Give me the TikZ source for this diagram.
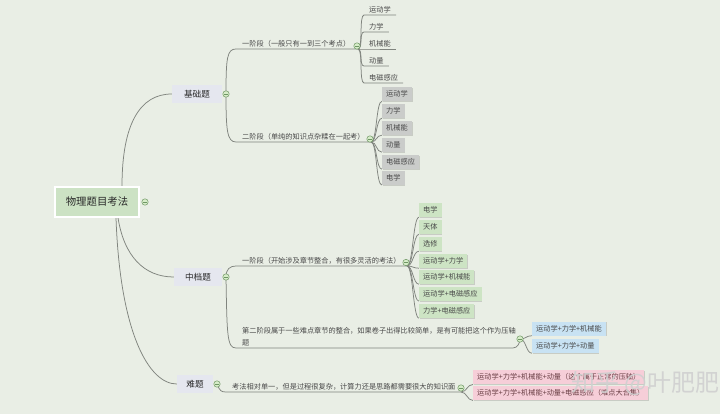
\documentclass[tikz,border=0pt]{standalone}
\usepackage{fontspec}
\setmainfont{Noto Sans CJK SC}
\usetikzlibrary{shadows}
\pgfdeclarelayer{back}
\pgfdeclarelayer{lines}
\pgfsetlayers{back,lines,main}
\definecolor{bgc}{RGB}{233,238,229}
\definecolor{ln}{RGB}{128,132,126}
\definecolor{rootfill}{RGB}{204,226,196}
\definecolor{lonefill}{RGB}{229,231,239}
\definecolor{grayfill}{RGB}{202,204,202}
\definecolor{greenfill}{RGB}{205,228,196}
\definecolor{bluefill}{RGB}{200,226,243}
\definecolor{pinkfill}{RGB}{246,206,216}
\definecolor{txt}{RGB}{40,40,40}
\definecolor{txtb}{RGB}{72,72,72}
\definecolor{pinktxt}{RGB}{105,62,68}
\definecolor{foldfill}{RGB}{214,236,200}
\definecolor{folddraw}{RGB}{110,150,100}
\definecolor{wmc}{RGB}{208,208,208}
\tikzset{
  conn/.style={draw=ln, line width=0.75pt},
  rootbox/.style={fill=rootfill, draw=white, line width=1.6pt, minimum width=84pt, minimum height=30pt, inner sep=0pt, font=\fontsize{10.4}{12}\selectfont, text=txt},
  lonebox/.style={fill=lonefill, minimum height=18pt, inner xsep=0pt, inner ysep=0pt, font=\fontsize{8.6}{10}\selectfont, text=txt},
  ltwo/.style={anchor=south west, inner xsep=6pt, inner ysep=1.6pt, font=\fontsize{7.2}{12}\selectfont, text=txtb},
  leaf/.style={anchor=south west, inner xsep=5pt, inner ysep=1.6pt, font=\fontsize{7.2}{8}\selectfont, text=txtb},
  tagbox/.style={anchor=west, minimum height=14pt, inner xsep=4pt, inner ysep=0pt, font=\fontsize{7.2}{8}\selectfont, text=txtb,
     general shadow={fill=black, opacity=0.14, shadow xshift=0.8pt, shadow yshift=-0.9pt}},
  graybox/.style={tagbox, fill=grayfill},
  greenbox/.style={tagbox, fill=greenfill},
  bluebox/.style={tagbox, fill=bluefill},
  pinkbox/.style={tagbox, fill=pinkfill, text=pinktxt, minimum height=14.5pt},
  fold/.style={circle, draw=folddraw, fill=foldfill, minimum size=6.4pt, inner sep=0pt, line width=0.5pt,
     path picture={\draw[folddraw, line width=0.55pt] ([xshift=-1.8pt]path picture bounding box.center) -- ([xshift=1.8pt]path picture bounding box.center);}},
}
\begin{document}
\begin{tikzpicture}[x=1pt,y=-1pt]
\begin{pgfonlayer}{back}
\fill[bgc] (0,0) rectangle (720,414);
\end{pgfonlayer}
\useasboundingbox (0,0) rectangle (720,414);

% root and level 1
\node[rootbox] (root) at (97,202) {物理题目考法};
\node[fold] (rootf) at (145,202) {};
\node[lonebox, minimum width=50pt] (jc) at (197,94) {基础题};
\node[fold] (jcf) at (226,94) {};
\node[lonebox, minimum width=48pt] (zd) at (198,277) {中档题};
\node[fold] (zdf) at (226,277) {};
\node[lonebox, minimum width=36pt] (nt) at (195,384) {难题};
\node[fold] (ntf) at (217,384) {};

% level 2
\node[ltwo] (a1) at (236,49) {一阶段（一般只有一到三个考点）};
\coordinate (a1e) at (358,49);
\node[ltwo] (a2) at (236,142) {二阶段（单纯的知识点杂糅在一起考）};
\coordinate (a2e) at (371,142);
\node[ltwo] (b1) at (236,266) {一阶段（开始涉及章节整合，有很多灵活的考法）};
\coordinate (b1e) at (407,266);
\node[ltwo, align=left] (b2) at (236,348) {第二阶段属于一些难点章节的整合，如果卷子出得比较简单，是有可能把这个作为压轴\\题};
\coordinate (b2e) at (513,348);
\node[ltwo] (c1) at (226,392) {考法相对单一，但是过程很复杂，计算力还是思路都需要很大的知识面};
\coordinate (c1e) at (461,392);

% leaves of a1
\node[leaf] (l11) at (364,15) {运动学};
\node[leaf] (l12) at (364,32) {力学};
\node[leaf] (l13) at (364,49) {机械能};
\node[leaf] (l14) at (364,66) {动量};
\node[leaf] (l15) at (364,83) {电磁感应};

% boxes of a2
\node[graybox] (g1) at (382,94) {运动学};
\node[graybox] (g2) at (382,111) {力学};
\node[graybox] (g3) at (382,128) {机械能};
\node[graybox] (g4) at (382,145) {动量};
\node[graybox] (g5) at (382,162) {电磁感应};
\node[graybox] (g6) at (382,178) {电学};

% boxes of b1
\node[greenbox] (h1) at (419,210) {电学};
\node[greenbox] (h2) at (419,227) {天体};
\node[greenbox] (h3) at (419,244) {选修};
\node[greenbox] (h4) at (419,261) {运动学+力学};
\node[greenbox] (h5) at (419,277) {运动学+机械能};
\node[greenbox] (h6) at (419,294) {运动学+电磁感应};
\node[greenbox] (h7) at (419,311) {力学+电磁感应};

% boxes of b2
\node[bluebox] (k1) at (532,328.5) {运动学+力学+机械能};
\node[bluebox] (k2) at (532,346) {运动学+力学+动量};

% boxes of c1
\node[pinkbox] (p1) at (473,377) {运动学+力学+机械能+动量（这个属于正常的压轴）};
\node[pinkbox] (p2) at (473,393) {运动学+力学+机械能+动量+电磁感应（难点大合集）};

% fold marks of level 2
\node[fold] (a1f) at (357,46) {};
\node[fold] (a2f) at (370,139) {};
\node[fold] (b1f) at (406,262.5) {};
\node[fold] (b2f) at (520,339) {};
\node[fold] (c1f) at (461,388) {};

% watermark
\node[anchor=west, font=\fontsize{24}{26}\selectfont, text=wmc, opacity=0.9] (wm) at (568,383) {知乎 @叶肥肥};

\begin{pgfonlayer}{lines}
% root connectors
\draw[conn] ([xshift=25pt]root.north) .. controls +(0,-62) and +(-32,0) .. (jc.west);
\draw[conn] ([xshift=21pt]root.south) .. controls +(6,38) and +(-30,0) .. (zd.west);
\draw[conn] ([xshift=19pt]root.south) .. controls +(4,115) and +(-28,0) .. (nt.west);
% level 1 to level 2
\draw[conn] (jcf.center) .. controls +(0,-36) and +(-9,0) .. (a1.south west) -- (a1e);
\draw[conn] (jcf.center) .. controls +(0,36) and +(-9,0) .. (a2.south west) -- (a2e);
\draw[conn] (zdf.center) .. controls +(0,-8) and +(-6,0) .. (b1.south west) -- (b1e);
\draw[conn] (zdf.center) .. controls +(1,58) and +(-9,0) .. (b2.south west) -- (b2e) .. controls +(5,0) and +(0,3) .. (b2f.center);
\draw[conn] (ntf.center) .. controls +(3,7) and +(-5,0) .. (c1.south west) -- (c1e);
% a1 leaves
\foreach \n in {l11,l12,l13,l14,l15}
  \draw[conn] (a1e) .. controls +(5,0) and +(-5,0) .. (\n.south west) -- (\n.south east);
% a2 boxes
\foreach \n in {g1,g2,g3,g4,g5,g6}
  \draw[conn] (a2e) .. controls +(6,0) and +(-6,0) .. (\n.south west);
% b1 boxes
\foreach \n in {h1,h2,h3,h4,h5,h6,h7}
  \draw[conn] (b1e) .. controls +(6,0) and +(-6,0) .. (\n.south west);
% b2 boxes
\foreach \n in {k1,k2}
  \draw[conn] (b2f.center) .. controls +(6,0) and +(-6,0) .. (\n.south west);
% c1 boxes
\foreach \n in {p1,p2}
  \draw[conn] (c1e) .. controls +(6,0) and +(-6,0) .. (\n.south west);
\end{pgfonlayer}
\end{tikzpicture}
\end{document}
